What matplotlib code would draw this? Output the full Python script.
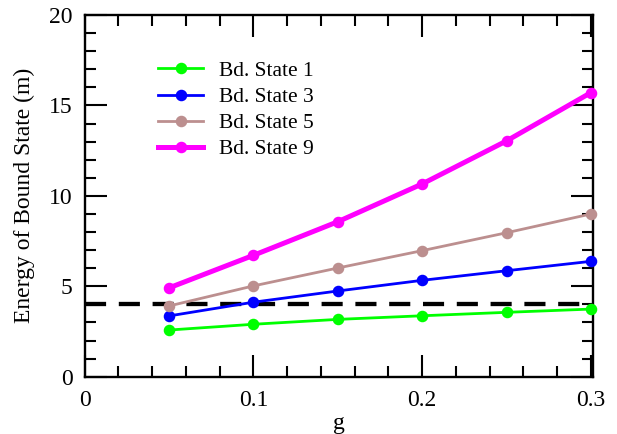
import matplotlib
matplotlib.use("Agg")
import matplotlib.pyplot as plt
from matplotlib.ticker import MultipleLocator

plt.rcParams['font.family'] = ['Liberation Serif', 'DejaVu Serif']
plt.rcParams['mathtext.fontset'] = 'stix'

g = [0.05, 0.10, 0.15, 0.20, 0.25, 0.30]
state1 = [2.58, 2.90, 3.17, 3.37, 3.56, 3.74]
state3 = [3.36, 4.12, 4.74, 5.33, 5.86, 6.38]
state5 = [3.91, 5.02, 6.01, 6.97, 7.96, 9.00]
state9 = [4.91, 6.71, 8.57, 10.66, 13.04, 15.71]
threshold = 4.0
labels = ["Bd. State 1", "Bd. State 3", "Bd. State 5", "Bd. State 9"]
colors = ["#00ff00", "#0000ff", "#bc8f8f", "#ff00ff"]
widths = [2.0, 2.0, 2.0, 3.6]

fig = plt.figure(figsize=(6.17, 4.34), dpi=100)
ax = fig.add_axes([0.1370, 0.1320, 0.8241, 0.8334])

ax.axhline(threshold, color='black', lw=3.1, ls=(0, (4.9, 2.95)), zorder=1)
for ys, lab, c, w in zip([state1, state3, state5, state9], labels, colors, widths):
    ax.plot(g, ys, color=c, lw=w, marker='o', ms=7.3, label=lab, zorder=3, clip_on=False)

ax.set_xlim(0, 0.3012)
ax.set_ylim(0, 20)
ax.xaxis.set_minor_locator(MultipleLocator(0.02))
ax.yaxis.set_major_locator(MultipleLocator(5))
ax.yaxis.set_minor_locator(MultipleLocator(1))
ax.set_xticks([0, 0.1, 0.2, 0.3])
ax.set_xticklabels(["0", "0.1", "0.2", "0.3"])
ax.tick_params(which='both', direction='in', top=True, right=True, labelsize=17, width=1.5)
ax.tick_params(which='major', length=16)
ax.tick_params(which='minor', length=8)
ax.tick_params(axis='x', which='both', pad=9.5)
ax.tick_params(axis='y', which='both', pad=8.5)
for s in ax.spines.values():
    s.set_linewidth(1.7)

ax.set_xlabel("g", fontsize=17, labelpad=1.5)
ax.set_ylabel("Energy of Bound State (m)", fontsize=17, labelpad=10)

leg = ax.legend(loc='upper left', bbox_to_anchor=(0.128, 0.897), frameon=False, fontsize=15.5,
                handlelength=2.09, labelspacing=0.28, handletextpad=0.73, borderaxespad=0)

fig.savefig("out.png", dpi=100)
